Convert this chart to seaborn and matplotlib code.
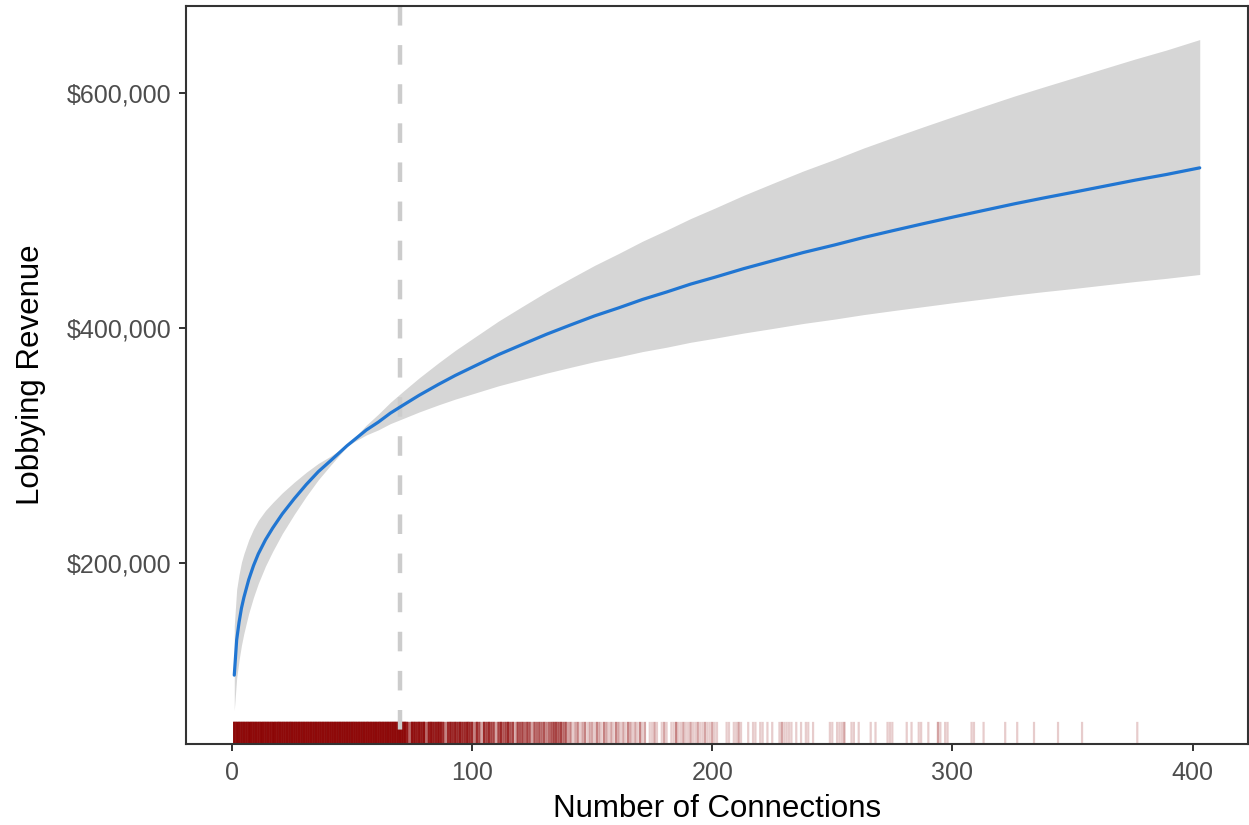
import numpy as np
import matplotlib
matplotlib.use('Agg')
import matplotlib.pyplot as plt
import seaborn as sns
from matplotlib.ticker import FuncFormatter

# fitted curve and its confidence band
conexiones = [1, 2, 3, 4, 5, 7, 9, 11, 14, 17, 21, 26, 31, 36, 41, 48, 51, 56, 61, 66,
              71, 78, 86, 93, 101, 111, 121, 131, 141, 151, 161, 171, 181, 191, 201,
              213, 226, 238, 251, 263, 276, 288, 301, 313, 326, 338, 351, 363, 376,
              389, 403]
ajuste = [105000, 135000, 150000, 162000, 171000, 186000, 198000, 208000, 220000,
          230000, 242000, 255000, 267000, 277900, 287000, 300000, 305000, 313300,
          320000, 327600, 334000, 342800, 352000, 359600, 367500, 377300, 386000,
          394600, 402500, 410200, 417000, 424200, 430500, 437200, 443000, 450300,
          457500, 464100, 470500, 476800, 483000, 488600, 494500, 499800, 505500,
          510400, 515500, 520300, 525500, 530300, 536000]
banda_inf = [75000, 102400, 117900, 130500, 140500, 157400, 171100, 182900, 197700,
             210200, 225300, 241700, 257000, 271000, 283100, 299400, 303400, 309100,
             313400, 318700, 322800, 328600, 334600, 339500, 344500, 350800, 356200,
             361600, 366500, 371300, 375400, 379900, 383600, 387800, 391200, 395600,
             399800, 403800, 407500, 411300, 414900, 418100, 421600, 424600, 428000,
             430800, 433600, 436400, 439400, 442100, 445400]
banda_sup = [147000, 177900, 190800, 201000, 208100, 219900, 229100, 236500, 244900,
             251600, 259900, 269000, 277400, 284900, 290900, 300600, 306600, 317500,
             326800, 336800, 345600, 357600, 370300, 380900, 392000, 405800, 418300,
             430600, 442000, 453100, 463200, 473700, 483100, 492900, 501700, 512600,
             523500, 533400, 543200, 552800, 562300, 570900, 580000, 588300, 597100,
             604700, 612800, 620300, 628400, 636000, 645000]

# rug: saturated block 1..72, then lines per value for 73..149, then the sparse tail
bloque_inicio = 1
bloque_fin = 72
bloque_n = 14

denso_inicio = 73
denso_n = [10, 4, 12, 12, 10, 12, 10, 12, 4, 10, 12, 10, 10, 12, 10, 8, 3, 8,
           10, 8, 10, 8, 10, 8, 8, 10, 8, 8, 3, 8, 6, 2, 8, 6, 8, 6, 6, 2,
           6, 8, 5, 6, 8, 5, 6, 2, 6, 5, 6, 4, 6, 5, 2, 5,
           4, 5, 4, 5, 3, 4, 5, 6, 6, 5, 6, 4, 5,
           2, 3, 1, 2, 3, 1, 2, 3, 1, 2]

rug_sueltos = [150, 150, 151, 152, 152, 152, 153, 153, 154, 155, 155, 155, 156, 156,
               157, 158, 158, 159, 160, 160, 160, 161, 161, 162, 163, 163, 164, 165,
               165, 165, 166, 166, 167, 168, 168, 169, 170, 170, 170, 171, 172, 172,
               174, 175, 176, 176, 177, 179, 180, 180, 181, 183, 184, 185, 185, 185,
               186, 187, 188, 188, 189, 190, 191, 191, 192, 193, 194, 194, 195, 196,
               197, 197, 198, 199, 200, 200, 201, 202, 206, 207, 209, 210, 211, 211,
               212, 215, 217, 218, 220, 221, 223, 225, 228, 229, 229, 230, 231, 232,
               233, 235, 237, 239, 240, 242, 249, 250, 252, 253, 254, 255, 255, 258,
               259, 261, 266, 268, 273, 274, 275, 281, 283, 286, 287, 290, 294, 294,
               295, 297, 298, 308, 309, 313, 322, 327, 334, 344, 354, 377]

corte = 70

rug = np.concatenate([
    np.repeat(np.arange(bloque_inicio, bloque_fin + 1), bloque_n),
    np.repeat(np.arange(denso_inicio, denso_inicio + len(denso_n)), denso_n),
    np.array(rug_sueltos),
])

sns.set_theme(style='white')
plt.rcParams['font.family'] = ['Liberation Sans', 'DejaVu Sans']

fig = plt.figure(figsize=(12.49, 8.25), dpi=100)
ax = fig.add_axes([186 / 1249, 1 - 744 / 825, 1062 / 1249, 738 / 825])

ax.fill_between(conexiones, banda_inf, banda_sup, color='#999999', alpha=0.4,
                linewidth=0, zorder=1)
sns.rugplot(x=rug, height=0.03, color='#8B0000', alpha=0.2, linewidth=1.6,
            expand_margins=False, ax=ax, zorder=1.5, snap=False)
ax.axvline(corte, ymin=1, ymax=0, color='#CCCCCC', linewidth=3.2,
           linestyle=(0, (4.4, 4.4)), zorder=2)
sns.lineplot(x=conexiones, y=ajuste, color='#2176D2', linewidth=2.3, ax=ax, zorder=3)

# ggplot-like 5% expansion
xr = conexiones[-1] - conexiones[0]
ax.set_xlim(conexiones[0] - 0.05 * xr, conexiones[-1] + 0.05 * xr)
yr = max(banda_sup) - min(banda_inf)
ax.set_ylim(min(banda_inf) - 0.05 * yr, max(banda_sup) + 0.05 * yr)

ax.set_xticks([0, 100, 200, 300, 400])
ax.set_yticks([200000, 400000, 600000])
ax.yaxis.set_major_formatter(FuncFormatter(lambda v, p: f'${v:,.0f}'))

for s in ax.spines.values():
    s.set_color('#333333')
    s.set_linewidth(1.5)
    s.set_zorder(4)
ax.tick_params(axis='both', length=5, width=1.4, color='#333333', labelcolor='#4D4D4D',
               labelsize=18, pad=5.5, bottom=True, left=True)
ax.tick_params(axis='x', pad=7)

ax.set_xlabel('Number of Connections', fontsize=22.5, color='black', labelpad=7)
ax.set_ylabel('Lobbying Revenue', fontsize=22.5, color='black', labelpad=15)

fig.savefig('out.png', dpi=100)
